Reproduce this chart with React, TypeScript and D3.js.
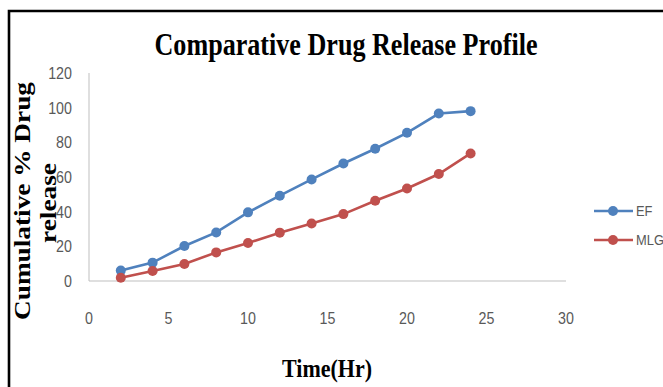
import React from "react";
import * as d3 from "d3";

// Sampling times (hours)
const hours = [2, 4, 6, 8, 10, 12, 14, 16, 18, 20, 22, 24];
// Cumulative % drug released
const efValues = [6, 10.6, 20.2, 28, 39.6, 49.2, 58.6, 67.8, 76.3, 85.5, 96.6, 98];
const mlgValues = [1.9, 5.8, 9.8, 16.5, 21.9, 27.9, 33.2, 38.6, 46.3, 53.4, 61.7, 73.6];
const xTicks = [0, 5, 10, 15, 20, 25, 30];
const yTicks = [0, 20, 40, 60, 80, 100, 120];

const seriesList = [
  { name: "EF", values: efValues, color: "#4F81BD" },
  { name: "MLG", values: mlgValues, color: "#C0504D" },
];

const W = 663;
const H = 387;

export default function App() {
  const x = d3.scaleLinear().domain([0, 30]).range([89, 566]);
  const y = d3.scaleLinear().domain([0, 120]).range([281, 73]);
  const line = d3
    .line<[number, number]>()
    .x((d) => x(d[0]))
    .y((d) => y(d[1]));

  const tickFont = "'Liberation Sans', Arial, sans-serif";
  const serif = "'Liberation Serif', 'Times New Roman', serif";

  // narrow sans labels, squeezed horizontally
  const tickLabel = (key: string, tx: number, ty: number, anchor: string, text: string) => (
    <g key={key} transform={`translate(${tx},${ty}) scale(0.84,1)`}>
      <text
        dy="0.36em"
        textAnchor={anchor}
        fontFamily={tickFont}
        fontSize={17}
        fill="#595959"
      >
        {text}
      </text>
    </g>
  );

  return (
    <svg
      width={W}
      height={H}
      style={{ position: "absolute", left: 0, top: 0, background: "#fff" }}
    >
      <rect width={W} height={H} fill="#fff" />
      {/* frame */}
      <path d={`M9,${H} V11 H${W}`} fill="none" stroke="#000" strokeWidth={2.6} />

      {/* title */}
      <text
        x={346}
        y={55}
        textAnchor="middle"
        fontFamily={serif}
        fontWeight="bold"
        fontSize={31}
        textLength={383}
        lengthAdjust="spacingAndGlyphs"
        fill="#000"
      >
        Comparative Drug Release Profile
      </text>

      {/* axes */}
      <line x1={x(0)} x2={x(0)} y1={y(120)} y2={y(0)} stroke="#BFBFBF" strokeWidth={1} />
      <line x1={x(0)} x2={x(30)} y1={y(0)} y2={y(0)} stroke="#BFBFBF" strokeWidth={1} />

      {yTicks.map((t) => tickLabel(`y${t}`, 72, y(t), "end", String(t)))}
      {xTicks.map((t) => tickLabel(`x${t}`, x(t), 318, "middle", String(t)))}

      {/* axis titles */}
      <text
        x={327}
        y={377}
        textAnchor="middle"
        fontFamily={serif}
        fontWeight="bold"
        fontSize={26}
        textLength={90}
        lengthAdjust="spacingAndGlyphs"
        fill="#000"
      >
        Time(Hr)
      </text>
      <text
        transform="translate(30,201) rotate(-90)"
        textAnchor="middle"
        fontFamily={serif}
        fontWeight="bold"
        fontSize={24}
        textLength={238}
        lengthAdjust="spacingAndGlyphs"
        fill="#000"
      >
        Cumulative % Drug
      </text>
      <text
        transform="translate(56,203) rotate(-90)"
        textAnchor="middle"
        fontFamily={serif}
        fontWeight="bold"
        fontSize={23}
        textLength={80}
        lengthAdjust="spacingAndGlyphs"
        fill="#000"
      >
        release
      </text>

      {/* series */}
      {seriesList.map((s) => {
        const pts = hours.map((h, i) => [h, s.values[i]] as [number, number]);
        return (
          <g key={s.name}>
            <path d={line(pts) || ""} fill="none" stroke={s.color} strokeWidth={2.6} />
            {pts.map((p, i) => (
              <circle key={i} cx={x(p[0])} cy={y(p[1])} r={5} fill={s.color} />
            ))}
          </g>
        );
      })}

      {/* legend */}
      {seriesList.map((s, i) => {
        const ly = 211 + i * 29;
        return (
          <g key={`lg${s.name}`}>
            <line x1={594} x2={633} y1={ly} y2={ly} stroke={s.color} strokeWidth={2.6} />
            <circle cx={613} cy={ly} r={5} fill={s.color} />
            <g transform={`translate(636,${ly}) scale(0.86,1)`}>
              <text dy="0.36em" fontFamily={tickFont} fontSize={15} fill="#595959">
                {s.name}
              </text>
            </g>
          </g>
        );
      })}
    </svg>
  );
}
